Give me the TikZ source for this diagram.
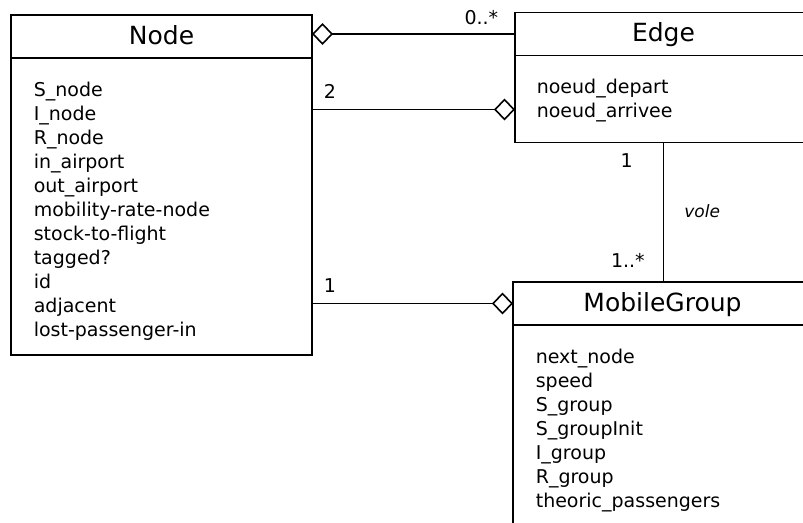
\documentclass[tikz,border=0pt]{standalone}
\usepackage{fontspec}
\setmainfont{DejaVu Sans}
\usetikzlibrary{positioning,arrows.meta,calc}
\begin{document}
\begin{tikzpicture}[x=1pt, y=-1pt, line width=1.6pt,
  classhead/.style={draw, outer sep=0pt, minimum height=43pt, text height=19pt, text depth=4pt, font=\fontsize{25}{30}\selectfont},
  classbody/.style={draw, outer sep=0pt},
  attrlist/.style={align=left, inner sep=0pt, font=\fontsize{19}{24}\selectfont},
  mult/.style={inner sep=0pt, font=\fontsize{19}{23}\selectfont},
  aggr/.tip={Diamond[open, length=21pt, width=22pt]}]
\useasboundingbox (0,0) rectangle (803,522);
\clip (0,0) rectangle (803,522);
\node[classhead, minimum width=301pt] (nodetitle) at (161.5,36.5) {Node};
\node[classbody, minimum width=301pt, minimum height=297pt, below=0pt of nodetitle] (nodebody) {};
\node[attrlist, below right=23pt and 22pt of nodetitle.south west] (nodeattr) {S\_node\\I\_node\\R\_node\\in\_airport\\out\_airport\\mobility-rate-node\\stock-to-flight\\tagged?\\id\\adjacent\\lost-passenger-in};
\node[classhead, minimum width=297pt] (edgetitle) at (663.5,34) {Edge};
\node[classbody, minimum width=297pt, minimum height=87pt, below=0pt of edgetitle] (edgebody) {};
\node[attrlist, below right=23pt and 21pt of edgetitle.south west] (edgeattr) {noeud\_depart\\noeud\_arrivee};
\node[classhead, minimum width=299pt] (mgtitle) at (662.5,303.5) {MobileGroup};
\node[classbody, minimum width=299pt, minimum height=260pt, below=0pt of mgtitle] (mgbody) {};
\node[attrlist, below right=23pt and 22pt of mgtitle.south west] (mgattr) {next\_node\\speed\\S\_group\\S\_groupInit\\I\_group\\R\_group\\theoric\_passengers};
\coordinate (edgein) at ($(edgebody.south west)+(0,-33)$);
\draw[aggr-] (nodebody.east |- edgetitle.west) -- node[mult, pos=1, anchor=base east, xshift=-16pt, yshift=10pt] {0..*} (edgetitle.west);
\draw[-aggr] (nodebody.east |- edgein) -- node[mult, pos=0, anchor=base west, xshift=11pt, yshift=11pt] {2} (edgein);
\draw[-aggr] (nodebody.east |- mgtitle.west) -- node[mult, pos=0, anchor=base west, xshift=11pt, yshift=11.5pt] {1} (mgtitle.west);
\draw (edgebody.south) -- node[mult, pos=0, anchor=base east, xshift=-30pt, yshift=-25pt] {1} node[mult, pos=1, anchor=base east, xshift=-18pt, yshift=15pt] {1..*} node[mult, pos=0.5, anchor=base west, xshift=20pt, yshift=-5.5pt, font=\fontsize{17}{20}\selectfont\itshape] {vole} (edgebody.south |- mgtitle.north);
\end{tikzpicture}
\end{document}
